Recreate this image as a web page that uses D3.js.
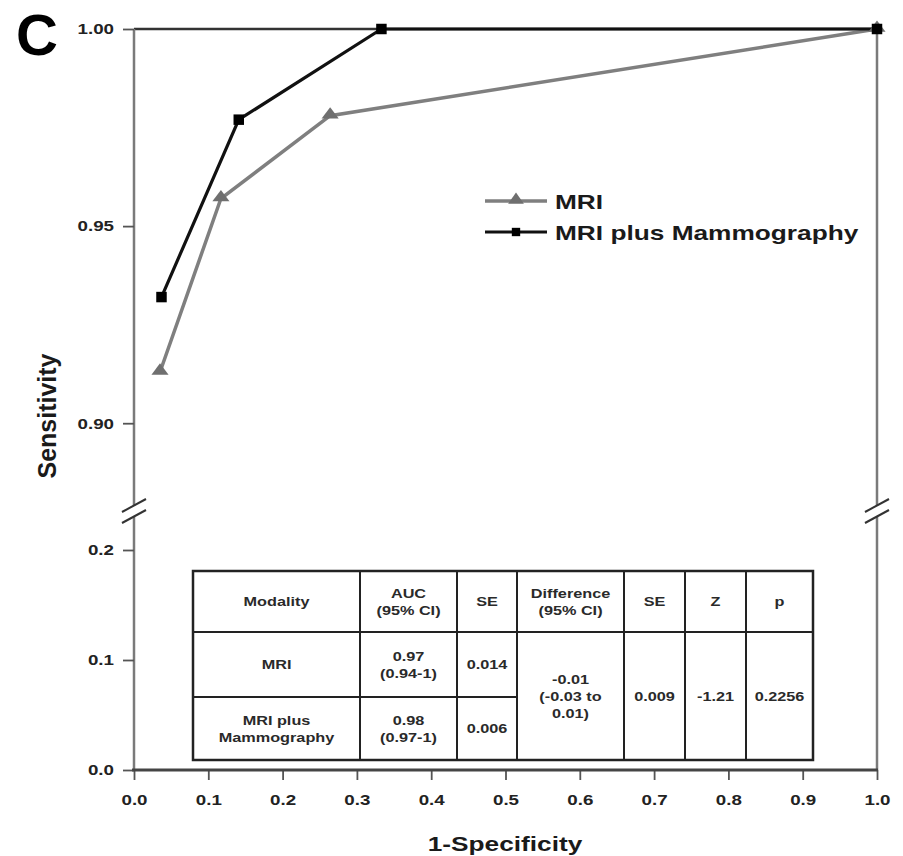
<!DOCTYPE html>
<head>
<meta charset="utf-8">
<title>ROC MRI vs MRI plus Mammography</title>
<script src="https://d3js.org/d3.v7.min.js"></script>
<style>
  body { margin: 0; background: #fff; }
  svg { font-family: "Liberation Sans", Arial, sans-serif; font-weight: bold; }
</style>
</head>
<body>
<div id="roc"></div>
<script>

  // ROC points (1-specificity, sensitivity)
  var mriFpr   = [0.035, 0.117, 0.264, 1.0];
  var mriSens  = [0.913, 0.957, 0.978, 1.0];
  var comboFpr  = [0.037, 0.141, 0.333, 1.0];
  var comboSens = [0.932, 0.977, 1.0, 1.0];

  var xTicks = [0, 0.1, 0.2, 0.3, 0.4, 0.5, 0.6, 0.7, 0.8, 0.9, 1.0];
  var yTopTicks = [0.90, 0.95, 1.00];
  var yBotTicks = [0.0, 0.1, 0.2];

  var seriesNames = ["MRI", "MRI plus Mammography"];

  // table contents
  var tableHeader = ["Modality", "AUC|(95% CI)", "SE", "Difference|(95% CI)", "SE", "Z", "p"];
  var tableRows = [
    ["MRI", "0.97|(0.94-1)", "0.014"],
    ["MRI plus|Mammography", "0.98|(0.97-1)", "0.006"]
  ];
  var tableMerged = ["-0.01|(-0.03 to|0.01)", "0.009", "-1.21", "0.2256"];

  var W = 903, H = 856;
  var sx = 1.25; // the source figure is stretched sideways

  var svg = d3.select("#roc").append("svg")
    .attr("width", W).attr("height", H);

  var x = d3.scaleLinear().domain([0, 1]).range([134, 877]);
  var yTop = d3.scaleLinear().domain([0.879, 1.0]).range([506, 29]);
  var yBot = d3.scaleLinear().domain([0, 0.23]).range([770, 517]);

  function label(g, px, py, txt, size, anchor, rot) {
    return g.append("text")
      .attr("transform", "translate(" + px + "," + py + ")" + (rot ? " rotate(" + rot + ")" : " scale(" + sx + ",1)"))
      .attr("text-anchor", anchor || "middle")
      .style("font-size", size + "px")
      .style("fill", "#1a1a1a")
      .text(txt);
  }

  // panel letter
  svg.append("text")
    .attr("x", 16).attr("y", 55)
    .style("font-size", "58px")
    .style("fill", "#000")
    .text("C");

  // frame: top and right
  svg.append("line")
    .attr("x1", x(0)).attr("x2", x(1))
    .attr("y1", yTop(1)).attr("y2", yTop(1))
    .style("stroke", "#333").style("stroke-width", 2.5);

  [x(0), x(1)].forEach(function(px) {
    var col = "#7a7a7a";
    svg.append("line")
      .attr("x1", px).attr("x2", px)
      .attr("y1", yTop(1)).attr("y2", yTop.range()[0])
      .style("stroke", col).style("stroke-width", 2.5);
    svg.append("line")
      .attr("x1", px).attr("x2", px)
      .attr("y1", yBot.range()[1]).attr("y2", yBot(0))
      .style("stroke", col).style("stroke-width", 2.5);
    // break marks
    [yTop.range()[0], yBot.range()[1]].forEach(function(yb) {
      svg.append("line")
        .attr("x1", px - 12).attr("y1", yb + 6)
        .attr("x2", px + 12).attr("y2", yb - 7)
        .style("stroke", "#333").style("stroke-width", 2);
    });
  });

  function styleTicks(g) {
    g.select(".domain").remove();
    g.selectAll(".tick line").style("stroke", "#555").style("stroke-width", 1.8);
    g.selectAll(".tick text")
      .style("font-size", "15px")
      .style("fill", "#222");
  }

  // left axes (upper and lower segment)
  var gTop = svg.append("g")
    .attr("transform", "translate(" + x(0) + ",0)")
    .call(d3.axisLeft(yTop).tickValues(yTopTicks).tickFormat(d3.format(".2f")).tickSize(11).tickPadding(9));
  var gBot = svg.append("g")
    .attr("transform", "translate(" + x(0) + ",0)")
    .call(d3.axisLeft(yBot).tickValues(yBotTicks).tickFormat(d3.format(".1f")).tickSize(11).tickPadding(9));
  [gTop, gBot].forEach(function(g) {
    styleTicks(g);
    g.selectAll(".tick text").each(function() {
      var t = d3.select(this);
      var px = +t.attr("x");
      t.attr("x", 0).attr("transform", "translate(" + px + ",0) scale(" + sx + ",1)");
    });
  });

  // bottom axis
  var gx = svg.append("g")
    .attr("transform", "translate(0," + yBot(0) + ")")
    .call(d3.axisBottom(x).tickValues(xTicks).tickFormat(d3.format(".1f")).tickSize(10).tickPadding(14));
  styleTicks(gx);
  gx.selectAll(".tick text").attr("transform", "scale(" + sx + ",1)");
  svg.append("line")
    .attr("x1", x(0) - 2).attr("x2", x(1) + 1)
    .attr("y1", yBot(0)).attr("y2", yBot(0))
    .style("stroke", "#444").style("stroke-width", 3);

  // axis titles
  label(svg, 505, 851, "1-Specificity", 21, "middle");
  label(svg, 56, 416, "Sensitivity", 25, "middle", -90);

  // ROC lines
  var line = d3.line()
    .x(function(d) { return x(d[0]); })
    .y(function(d) { return yTop(d[1]); });

  var mriPts = mriFpr.map(function(v, i) { return [v, mriSens[i]]; });
  var comboPts = comboFpr.map(function(v, i) { return [v, comboSens[i]]; });

  svg.append("path").datum(mriPts)
    .attr("d", line)
    .style("fill", "none").style("stroke", "#7f7f7f").style("stroke-width", 3.5);
  svg.append("path").datum(comboPts)
    .attr("d", line)
    .style("fill", "none").style("stroke", "#111").style("stroke-width", 3.2);

  var tri = d3.symbol().type(d3.symbolTriangle).size(75);
  var sq = d3.symbol().type(d3.symbolSquare).size(110);

  svg.append("g").selectAll("path")
    .data(mriPts).enter().append("path")
    .attr("d", tri)
    .attr("transform", function(d) { return "translate(" + x(d[0]) + "," + (yTop(d[1]) - 1) + ") scale(1.3,1)"; })
    .style("fill", "#6f6f6f");
  svg.append("g").selectAll("path")
    .data(comboPts).enter().append("path")
    .attr("d", sq)
    .attr("transform", function(d) { return "translate(" + x(d[0]) + "," + yTop(d[1]) + ")"; })
    .style("fill", "#000");

  // legend
  var leg = svg.append("g").attr("transform", "translate(485,201)");
  var legStyles = [
    { stroke: "#7f7f7f", w: 3.5, sym: tri, fill: "#6f6f6f", sc: "scale(1.2,1)" },
    { stroke: "#111", w: 3, sym: d3.symbol().type(d3.symbolSquare).size(70), fill: "#000", sc: "" }
  ];
  seriesNames.forEach(function(name, i) {
    var gy = i * 31;
    var s = legStyles[i];
    leg.append("line")
      .attr("x1", 0).attr("x2", 62).attr("y1", gy).attr("y2", gy)
      .style("stroke", s.stroke).style("stroke-width", s.w);
    leg.append("path").attr("d", s.sym)
      .attr("transform", "translate(31," + (gy - (i ? 0 : 1)) + ") " + s.sc)
      .style("fill", s.fill);
    label(leg, 70, gy + 7.5, name, 21, "start");
  });

  // table
  var tx0 = 193, ty0 = 571;
  var colW = [167, 97, 60, 107, 61, 61, 67];
  var rowH = [61, 65, 63];
  var colX = [tx0];
  colW.forEach(function(w) { colX.push(colX[colX.length - 1] + w); });
  var rowY = [ty0];
  rowH.forEach(function(h) { rowY.push(rowY[rowY.length - 1] + h); });

  var tbl = svg.append("g");
  tbl.append("rect")
    .attr("x", colX[0]).attr("y", rowY[0])
    .attr("width", colX[7] - colX[0]).attr("height", rowY[3] - rowY[0])
    .style("fill", "#fff").style("stroke", "#222").style("stroke-width", 2.5);
  colX.slice(1, 7).forEach(function(cx) {
    tbl.append("line").attr("x1", cx).attr("x2", cx)
      .attr("y1", rowY[0]).attr("y2", rowY[3])
      .style("stroke", "#222").style("stroke-width", 2);
  });
  tbl.append("line").attr("x1", colX[0]).attr("x2", colX[7])
    .attr("y1", rowY[1]).attr("y2", rowY[1])
    .style("stroke", "#222").style("stroke-width", 2);
  tbl.append("line").attr("x1", colX[0]).attr("x2", colX[3])
    .attr("y1", rowY[2]).attr("y2", rowY[2])
    .style("stroke", "#222").style("stroke-width", 2);

  function cellText(txt, c0, c1, r0, r1) {
    var lines = txt.split("|");
    var cx = (colX[c0] + colX[c1]) / 2;
    var cy = (rowY[r0] + rowY[r1]) / 2;
    var lh = 17;
    lines.forEach(function(l, k) {
      var ly = cy + (k - (lines.length - 1) / 2) * lh + 4.5;
      label(tbl, cx, ly, l, 13, "middle").style("fill", "#2a2a2a");
    });
  }

  tableHeader.forEach(function(h, c) { cellText(h, c, c + 1, 0, 1); });
  tableRows.forEach(function(row, r) {
    row.forEach(function(v, c) { cellText(v, c, c + 1, r + 1, r + 2); });
  });
  tableMerged.forEach(function(v, k) { cellText(v, 3 + k, 4 + k, 1, 3); });

</script>
</body>
</html>
